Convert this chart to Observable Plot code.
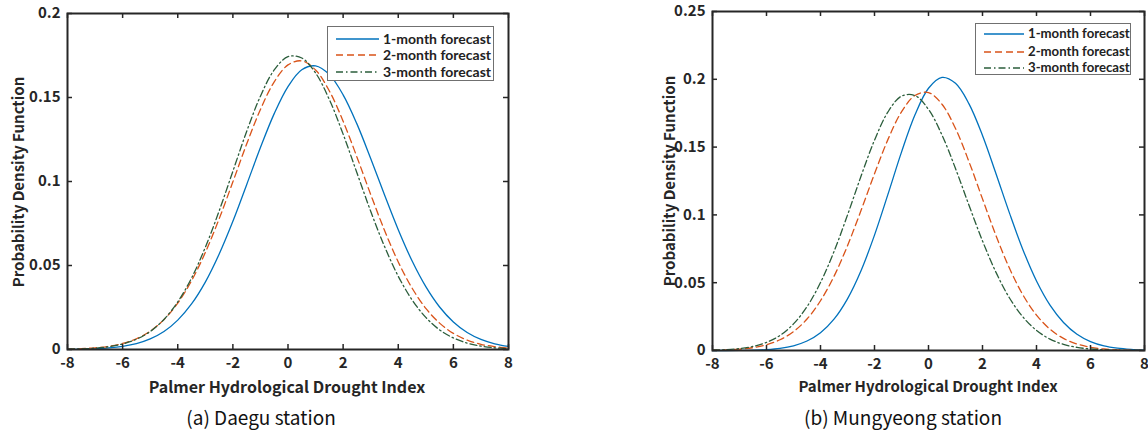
<!DOCTYPE html>
<html><head><meta charset="utf-8">
<script src="https://cdn.jsdelivr.net/npm/d3@7"></script>
<script src="https://cdn.jsdelivr.net/npm/@observablehq/plot@0.6"></script>
<style>
body{margin:0;background:#fff;}
#wrap{position:relative;width:1148px;height:433px;overflow:hidden;font-family:"Noto Sans CJK KR","Noto Sans",sans-serif;color:#262626;}
.panel{position:absolute;top:0;}
.ytitle{position:absolute;transform:translate(-50%,-50%) rotate(-90deg);white-space:nowrap;font-weight:700;font-size:15px;line-height:1;}
.xtitle{position:absolute;transform:translateX(-50%);white-space:nowrap;font-weight:700;font-size:16px;line-height:1;}
.caption{position:absolute;transform:translateX(-50%);white-space:nowrap;font-size:19px;font-weight:400;color:#111;line-height:1;}
.legend{position:absolute;border:1px solid #707070;background:#fff;box-sizing:border-box;}
.legend .row{position:absolute;display:flex;align-items:center;white-space:nowrap;font-family:Lato,"Noto Sans",sans-serif;font-weight:700;color:#222;line-height:1;}
</style></head>
<body><div id="wrap"></div>
<script>
// ---- data ----
const xs = [-8,-7.5,-7,-6.5,-6,-5.5,-5,-4.5,-4,-3.5,-3,-2.5,-2,-1.5,-1,-0.5,0,0.5,1,1.5,2,2.5,3,3.5,4,4.5,5,5.5,6,6.5,7,7.5,8];
const xTicks = [-8,-6,-4,-2,0,2,4,6,8];
const yTicksA = [0,0.05,0.1,0.15,0.2];
const yTicksB = [0,0.05,0.1,0.15,0.2,0.25];
const seriesNames = ["1-month forecast","2-month forecast","3-month forecast"];
const seriesColors = ["#0072BD","#D95319","#2b5d3b"];
const seriesDash = [null,"7,4","7,3,1.5,3"];

const daegu1 = [0.0001,0.0002,0.0005,0.0010,0.0019,0.0035,0.0063,0.0107,0.0175,0.0271,0.0401,0.0567,0.0763,0.0981,0.1202,0.1404,0.1565,0.1665,0.1688,0.1636,0.1516,0.1343,0.1137,0.0921,0.0713,0.0528,0.0374,0.0253,0.0164,0.0101,0.0060,0.0034,0.0018];
const daegu2 = [0.0002,0.0005,0.0010,0.0019,0.0036,0.0064,0.0109,0.0178,0.0276,0.0409,0.0577,0.0777,0.0998,0.1223,0.1429,0.1593,0.1694,0.1718,0.1664,0.1539,0.1359,0.1146,0.0923,0.0710,0.0521,0.0366,0.0245,0.0157,0.0096,0.0056,0.0031,0.0017,0.0008];
const daegu3 = [0.0002,0.0004,0.0008,0.0017,0.0033,0.0061,0.0107,0.0179,0.0283,0.0425,0.0608,0.0824,0.1061,0.1298,0.1508,0.1664,0.1743,0.1735,0.1646,0.1488,0.1282,0.1052,0.0823,0.0614,0.0436,0.0296,0.0191,0.0117,0.0069,0.0038,0.0020,0.0010,0.0005];

const mungyeong1 = [0.0000,0.0000,0.0001,0.0003,0.0007,0.0016,0.0035,0.0070,0.0131,0.0231,0.0381,0.0588,0.0851,0.1153,0.1463,0.1738,0.1934,0.2014,0.1970,0.1819,0.1586,0.1304,0.1013,0.0742,0.0513,0.0335,0.0207,0.0120,0.0066,0.0034,0.0017,0.0008,0.0003];
const mungyeong2 = [0.0002,0.0005,0.0010,0.0021,0.0042,0.0079,0.0139,0.0232,0.0367,0.0547,0.0773,0.1032,0.1303,0.1557,0.1760,0.1881,0.1902,0.1816,0.1637,0.1392,0.1118,0.0847,0.0606,0.0409,0.0261,0.0157,0.0089,0.0048,0.0024,0.0011,0.0005,0.0002,0.0001];
const mungyeong3 = [0.0003,0.0006,0.0014,0.0030,0.0060,0.0111,0.0196,0.0323,0.0501,0.0730,0.0999,0.1285,0.1551,0.1760,0.1876,0.1880,0.1778,0.1589,0.1342,0.1071,0.0808,0.0576,0.0387,0.0247,0.0148,0.0084,0.0045,0.0023,0.0011,0.0005,0.0002,0.0001,0.0000];

const xTitle = "Palmer Hydrological Drought Index";
const yTitle = "Probability Density Function";
const captionA = "(a) Daegu station";
const captionB = "(b) Mungyeong station";

// ---- drawing ----
const FONT = '"Noto Sans CJK KR","Noto Sans",sans-serif';
const INK = "#262626";

function panel({width,height,ml,mr,mt,mb,yDomain,yTicks,values}) {
  const pw = width - ml - mr, ph = height - mt - mb;
  const lines = values.map((vals,k) => Plot.line(xs.map((x,i)=>({x, y: vals[i]})), {
    x:"x", y:"y", stroke: seriesColors[k], strokeWidth:1.3,
    strokeDasharray: seriesDash[k] ?? undefined, curve:"catmull-rom"
  }));
  const tk = {stroke: INK, strokeWidth: 1.5};
  return Plot.plot({
    width, height, marginLeft: ml, marginRight: mr, marginTop: mt, marginBottom: mb,
    style: {fontFamily: FONT, background: "transparent", color: INK, overflow: "visible"},
    x: {domain: [-8, 8], label: null},
    y: {domain: yDomain, label: null},
    marks: [
      ...lines,
      Plot.axisX(xTicks, {tickSize: 0, tickPadding: 8, tickFormat: d => String(d), fontSize: 15, fontWeight: 700, fill: INK, label: null}),
      Plot.axisY(yTicks, {tickSize: 0, tickPadding: 7, tickFormat: d => String(d), fontSize: 15, fontWeight: 700, fill: INK, label: null}),
      Plot.tickX(xTicks, {x: d => d, insetTop: ph - 5, ...tk}),
      Plot.tickX(xTicks, {x: d => d, insetBottom: ph - 5, ...tk}),
      Plot.tickY(yTicks, {y: d => d, insetRight: pw - 5, ...tk}),
      Plot.tickY(yTicks, {y: d => d, insetLeft: pw - 5, ...tk}),
      Plot.frame({stroke: INK, strokeWidth: 2})
    ]
  });
}

const wrap = document.getElementById("wrap");
function place(el, left) { el.classList.add("panel"); el.style.left = left + "px"; wrap.appendChild(el); }

place(panel({width:560, height:380, ml:67, mr:52, mt:13, mb:31, yDomain:[0,0.2], yTicks:yTicksA, values:[daegu1,daegu2,daegu3]}), 0);
place(panel({width:568, height:380, ml:132, mr:4, mt:11, mb:30, yDomain:[0,0.25], yTicks:yTicksB, values:[mungyeong1,mungyeong2,mungyeong3]}), 580);

function addDiv(cls, text, css) {
  const d = document.createElement("div");
  d.className = cls; d.textContent = text;
  Object.assign(d.style, css); wrap.appendChild(d); return d;
}
addDiv("ytitle", yTitle, {left:"17px", top:"182px"});
addDiv("ytitle", yTitle, {left:"668px", top:"181px"});
addDiv("xtitle", xTitle, {left:"287px", top:"378px"});
addDiv("xtitle", xTitle, {left:"928px", top:"378px", fontSize:"15px"});
addDiv("caption", captionA, {left:"261px", top:"407px"});
addDiv("caption", captionB, {left:"903px", top:"407px"});

function legend({left, top, w, h, rowsY, sx, sw, tx, fs}) {
  const box = document.createElement("div");
  box.className = "legend";
  Object.assign(box.style, {left: left+"px", top: top+"px", width: w+"px", height: h+"px"});
  seriesNames.forEach((name, k) => {
    const row = document.createElement("div");
    row.className = "row";
    Object.assign(row.style, {left: sx+"px", top: (rowsY[k]-7)+"px", height: "14px", fontSize: fs+"px"});
    const svg = d3.create("svg").attr("width", sw).attr("height", 14).style("margin-right", (tx - sx - sw) + "px");
    svg.append("line").attr("x1", 0).attr("x2", sw).attr("y1", 7).attr("y2", 7)
      .attr("stroke", seriesColors[k]).attr("stroke-width", 1.6)
      .attr("stroke-dasharray", seriesDash[k]);
    row.appendChild(svg.node());
    const t = document.createElement("span"); t.textContent = name; row.appendChild(t);
    box.appendChild(row);
  });
  wrap.appendChild(box);
}
legend({left:327, top:26, w:167, h:55, rowsY:[12,28,45], sx:8, sw:43, tx:55, fs:14});
legend({left:975, top:23, w:156, h:52, rowsY:[10,28,44], sx:8, sw:40, tx:52, fs:13.2});
</script></body></html>
